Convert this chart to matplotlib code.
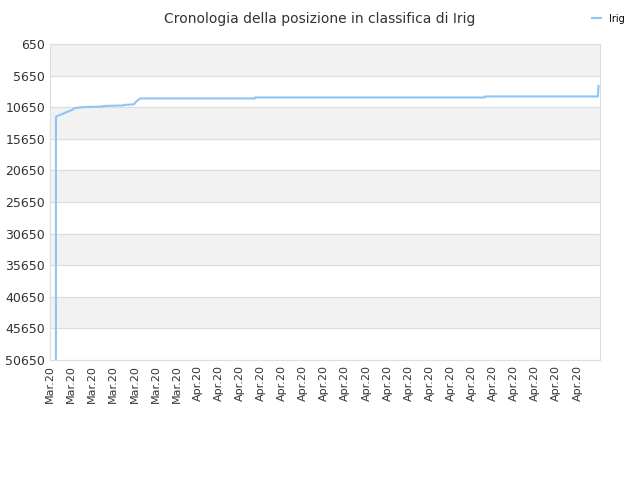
import matplotlib
matplotlib.use("Agg")
import matplotlib.pyplot as plt

labels = ["Mar.20"] * 7 + ["Apr.20"] * 19
xs = [0.28, 0.28, 0.3, 0.6, 1.0, 1.18, 1.66, 2.5, 2.55, 3.46, 3.5, 3.98, 4.1, 4.27, 9.7, 9.72, 20.6, 20.62, 25.97, 26.0]
ys = [50650, 12360, 12100, 11700, 11150, 10780, 10620, 10540, 10450, 10380, 10300, 10200, 9700, 9270, 9270, 9110, 9110, 8950, 8950, 7290]

fig = plt.figure(figsize=(6.4, 4.8), dpi=100)
ax = fig.add_axes([50/640, 1-360/480, 550/640, 316/480])
ax.plot(xs, ys, color="#90c4f4", lw=1.5, label="Irig")
ax.set_ylim(50650, 650)
ax.set_xlim(0, 26.07)
ticks = list(range(650, 50651, 5000))
ax.set_yticks(ticks)
ax.set_yticklabels([str(t) for t in ticks], fontsize=9, color="#333333")
for i in range(len(ticks)-1):
    if i % 2 == 0:
        ax.axhspan(ticks[i], ticks[i+1], color="#f2f2f2", zorder=0)
ax.set_xticks(range(len(labels)))
ax.set_xticklabels(labels, rotation=90, fontsize=8, color="#333333")
ax.tick_params(length=0)
ax.grid(axis="y", color="#dddddd", lw=0.8)
for s in ax.spines.values():
    s.set_color("#dddddd")
fig.text(0.5, 0.975, "Cronologia della posizione in classifica di Irig", ha="center", va="top", fontsize=10, color="#333333")
fig.legend(loc="upper right", bbox_to_anchor=(0.99, 0.99), frameon=False, fontsize=7, handlelength=1.0)
fig.savefig("out.png")
